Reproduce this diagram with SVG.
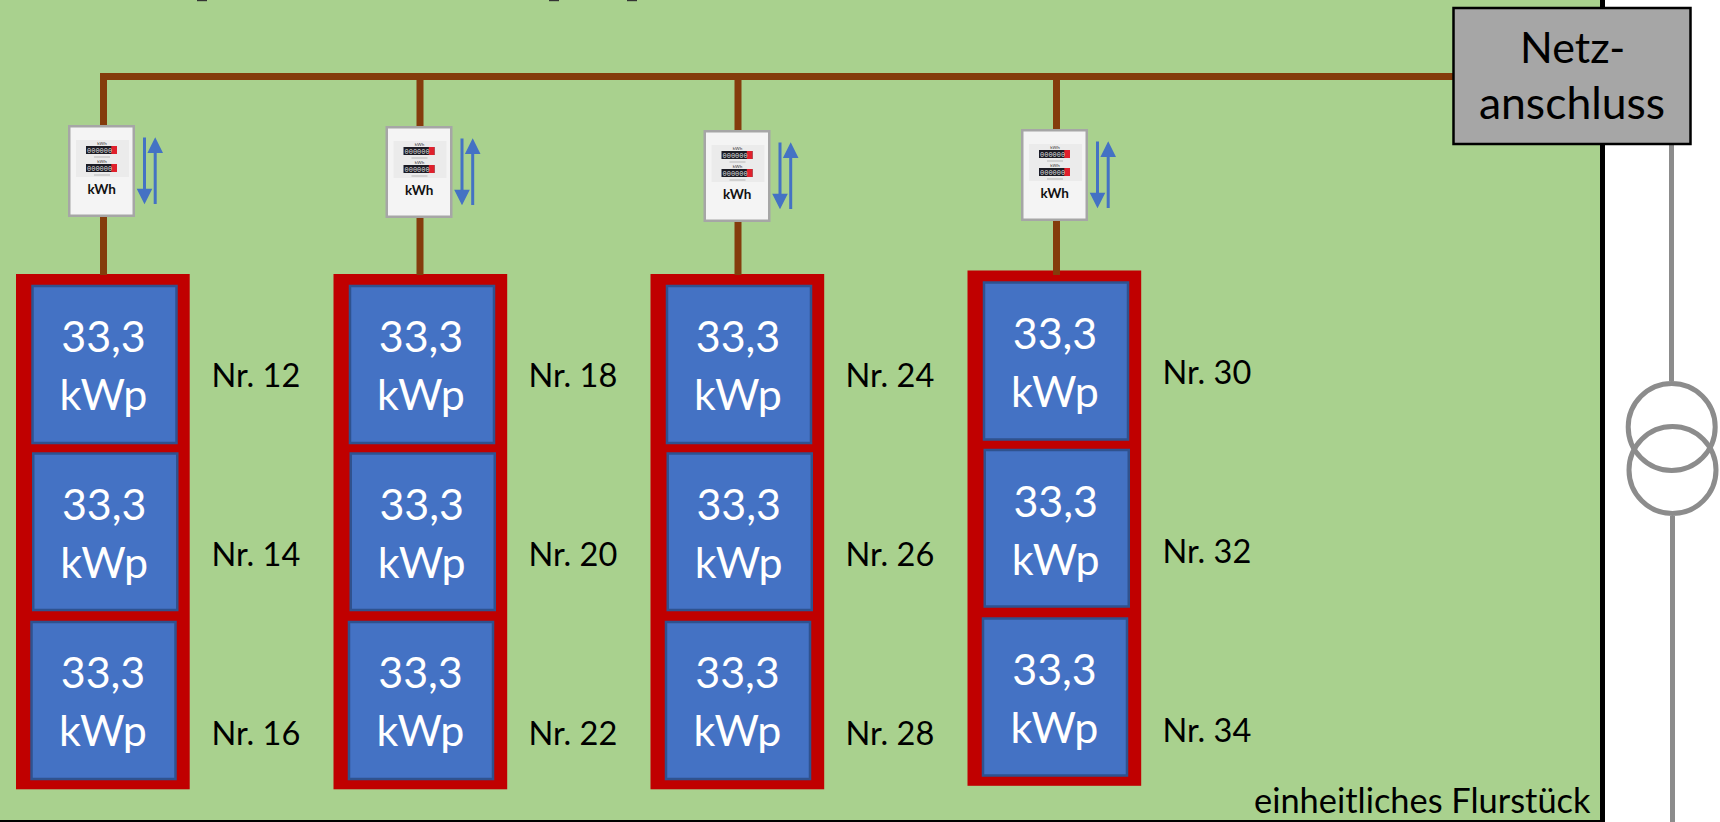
<svg xmlns="http://www.w3.org/2000/svg" xmlns:xlink="http://www.w3.org/1999/xlink" width="1720" height="822" viewBox="0 0 1720 822">
<style>
text{font-family:Lato,"Open Sans",sans-serif}
.wire{stroke:#843c0c;stroke-width:7;fill:none}
.red{fill:#c00000}
.pv{fill:#4472c4;stroke:#2f528f;stroke-width:2.500}
.pvt{fill:#fff;font-size:43px;text-anchor:middle}
.nr{fill:#000;font-size:32.500px}
.grid{stroke:#8c8c8c;stroke-width:5;fill:none}
.ar{stroke:#4472c4;stroke-width:3;fill:none}
.arh{fill:#4472c4}
.tiny{font-size:4.500px;text-anchor:middle;fill:#333}
.dig{font-size:7px;fill:#ddd;font-family:"Liberation Mono",monospace}
</style>
<defs>
<g id="m">
<rect x="1.250" y="1.250" width="64.500" height="89.500" fill="#f4f4f4" stroke="#a6a6a6" stroke-width="2.500"/>
<rect x="8" y="15" width="53" height="37" fill="#ebebeb"/>
<text class="tiny" x="34" y="20">kWh</text>
<rect x="18" y="21" width="31" height="8" fill="#1c1c24"/><rect x="43.300" y="21" width="5.700" height="8" fill="#e0202c"/>
<text class="dig" x="19" y="27.500">000000</text>
<path d="M26 32H42" stroke="#aaa" stroke-width="0.800"/>
<text class="tiny" x="34" y="38">kWh</text>
<rect x="18" y="39" width="31" height="8" fill="#1c1c24"/><rect x="43.300" y="39" width="5.700" height="8" fill="#e0202c"/>
<text class="dig" x="19" y="45.500">000000</text>
<path d="M26 50H42" stroke="#aaa" stroke-width="0.800"/>
<text x="33.700" y="69" font-size="13.500" font-weight="700" text-anchor="middle" fill="#111">kWh</text>
<path class="ar" d="M76.500 12.500V66M87.200 27V79"/>
<path class="arh" d="M68.700 63.800H84.300L76.500 79.200ZM79.400 28H95L87.200 12.200Z"/>
</g>
<g id="s">
<rect class="red" x="16" y="274" width="173.700" height="515.300"/>
<rect class="pv" x="32.500" y="286" width="144" height="157"/>
<rect class="pv" x="33.250" y="453.500" width="144" height="156.500"/>
<rect class="pv" x="31.500" y="622" width="144" height="157"/>
<text class="pvt" x="103.500" y="352">33,3</text><text class="pvt" x="103.500" y="410">kWp</text>
<text class="pvt" x="104.200" y="520">33,3</text><text class="pvt" x="104.200" y="578">kWp</text>
<text class="pvt" x="103" y="688">33,3</text><text class="pvt" x="103" y="746">kWp</text>
</g>
</defs>
<rect width="1720" height="822" fill="#fff"/>
<g id="plot">
<rect x="-5" y="-5" width="1607.500" height="827.500" fill="#a9d18e" stroke="#000" stroke-width="5"/>
<rect x="197" y="0" width="10" height="1.200" fill="#333"/><rect x="549" y="0" width="10" height="1.200" fill="#333"/><rect x="627" y="0" width="10" height="1.200" fill="#333"/>
<text x="1254" y="812.700" font-size="34.400" fill="#000">einheitliches Flurstück</text>
</g>
<g id="string1"><use xlink:href="#s"/></g>
<g id="string2"><use xlink:href="#s" x="317.500"/></g>
<g id="string3"><use xlink:href="#s" x="634.500"/></g>
<g id="string4"><use xlink:href="#s" x="951.500" y="-3.500"/></g>
<g id="labels">
<text class="nr" x="211.500" y="387.300">Nr. 12</text><text class="nr" x="211.500" y="566">Nr. 14</text><text class="nr" x="211.500" y="745">Nr. 16</text>
<text class="nr" x="528.500" y="387.300">Nr. 18</text><text class="nr" x="528.500" y="566">Nr. 20</text><text class="nr" x="528.500" y="745">Nr. 22</text>
<text class="nr" x="845.500" y="387.300">Nr. 24</text><text class="nr" x="845.500" y="566">Nr. 26</text><text class="nr" x="845.500" y="745">Nr. 28</text>
<text class="nr" x="1162.500" y="383.500">Nr. 30</text><text class="nr" x="1162.500" y="562.500">Nr. 32</text><text class="nr" x="1162.500" y="741.500">Nr. 34</text>
</g>
<g id="connectors">
<path class="wire" d="M103.500 126V76.500H1455M420 76.500V127M738 76.500V130M1056.500 76.500V129"/>
<path class="wire" d="M103.500 216V275M420 217V275M738 221V275M1056.500 220V275"/>
<path class="grid" d="M1671.500 145V381M1672.500 516V822"/>
<circle class="grid" cx="1671.700" cy="427" r="43.500"/>
<circle class="grid" cx="1672.500" cy="470" r="43.500"/>
</g>
<g id="meter1"><use xlink:href="#m" x="68" y="125"/></g>
<g id="meter2"><use xlink:href="#m" x="385.500" y="126"/></g>
<g id="meter3"><use xlink:href="#m" x="703.500" y="130"/></g>
<g id="meter4"><use xlink:href="#m" x="1021" y="129"/></g>
<g id="netz">
<rect x="1453.500" y="8" width="237" height="136" fill="#a6a6a6" stroke="#000" stroke-width="2.500"/>
<text x="1572.700" y="62.700" font-size="43" text-anchor="middle" fill="#000">Netz-</text>
<text x="1572" y="119.300" font-size="44.500" text-anchor="middle" fill="#000">anschluss</text>
</g>
</svg>
